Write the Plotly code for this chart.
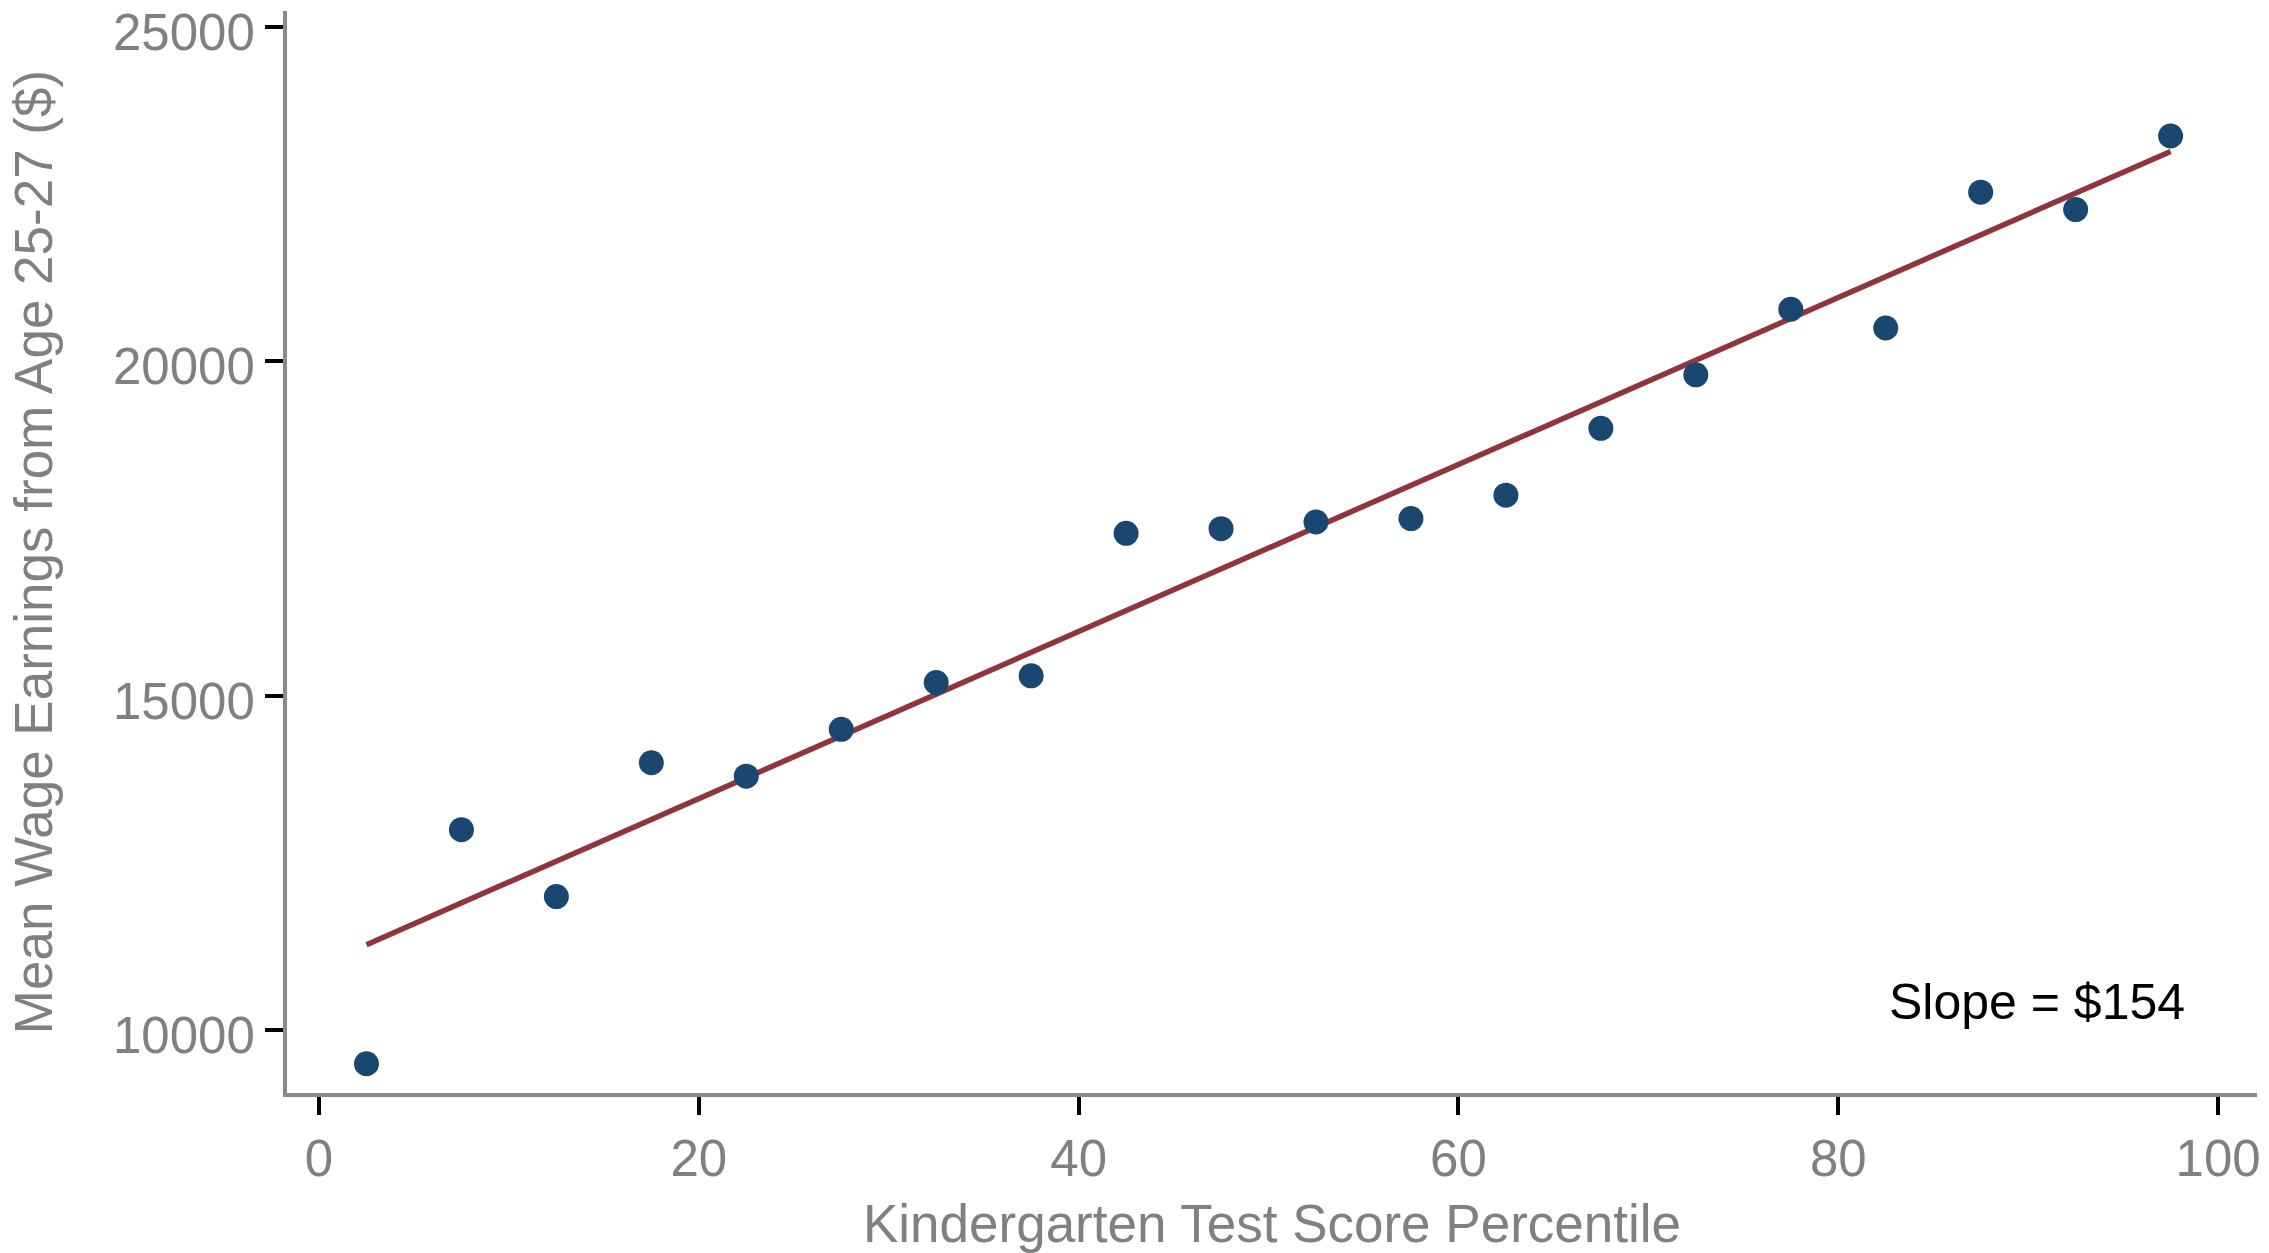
import plotly.graph_objects as go

# Data
percentile = [2.5, 7.5, 12.5, 17.5, 22.5, 27.5, 32.5, 37.5, 42.5, 47.5,
              52.5, 57.5, 62.5, 67.5, 72.5, 77.5, 82.5, 87.5, 92.5, 97.5]
earnings = [9500, 13000, 12000, 14000, 13800, 14500, 15200, 15300, 17430, 17500,
            17600, 17650, 18000, 19000, 19800, 20780, 20500, 22530, 22270, 23370]
fit_x = [2.5, 97.5]
fit_y = [11280, 23140]
x_ticks = [0, 20, 40, 60, 80, 100]
y_ticks = [10000, 15000, 20000, 25000]
y_tick_labels = ["10000", "15000", "20000", "25000"]
slope_label = "Slope = $154"

FONT = "Liberation Sans, Arial, sans-serif"
GREY = "#808080"

fig = go.Figure()
fig.add_trace(go.Scatter(
    x=fit_x, y=fit_y, mode="lines",
    line=dict(color="#90353b", width=5.5),
    showlegend=False, hoverinfo="skip"))
fig.add_trace(go.Scatter(
    x=percentile, y=earnings, mode="markers",
    marker=dict(color="#1a476f", size=25, line=dict(width=0)),
    showlegend=False))

fig.add_annotation(
    x=98.35, y=10420, xref="x", yref="y", text=slope_label,
    showarrow=False, xanchor="right", yanchor="middle",
    font=dict(family=FONT, size=50, color="black"))

fig.update_layout(
    width=2269, height=1253,
    margin=dict(l=287, r=12, t=11, b=160),
    paper_bgcolor="white", plot_bgcolor="white",
    font=dict(family=FONT, color=GREY),
)
fig.update_xaxes(
    range=[-1.685, 102.05], tickvals=x_ticks, automargin=False,
    showline=True, linecolor="#8a8a8a", linewidth=4, mirror=False,
    ticks="outside", ticklen=18, tickwidth=4, tickcolor="black",
    showgrid=False, zeroline=False, ticklabeloverflow="allow",
    tickfont=dict(family=FONT, size=51, color=GREY),
    title=dict(text="Kindergarten Test Score Percentile",
               font=dict(family=FONT, size=53, color=GREY), standoff=26),
)
fig.update_yaxes(
    range=[9063, 25239], tickvals=y_ticks, ticktext=y_tick_labels, automargin=False,
    showline=True, linecolor="#8a8a8a", linewidth=4, mirror=False,
    ticks="outside", ticklen=18, tickwidth=4, tickcolor="black",
    showgrid=False, zeroline=False, ticklabeloverflow="allow",
    ticklabelshift=5,
    tickfont=dict(family=FONT, size=51, color=GREY),
    title=dict(text="Mean Wage Earnings from Age 25-27 ($)",
               font=dict(family=FONT, size=53, color=GREY), standoff=44),
)

fig.write_html("out.html")
